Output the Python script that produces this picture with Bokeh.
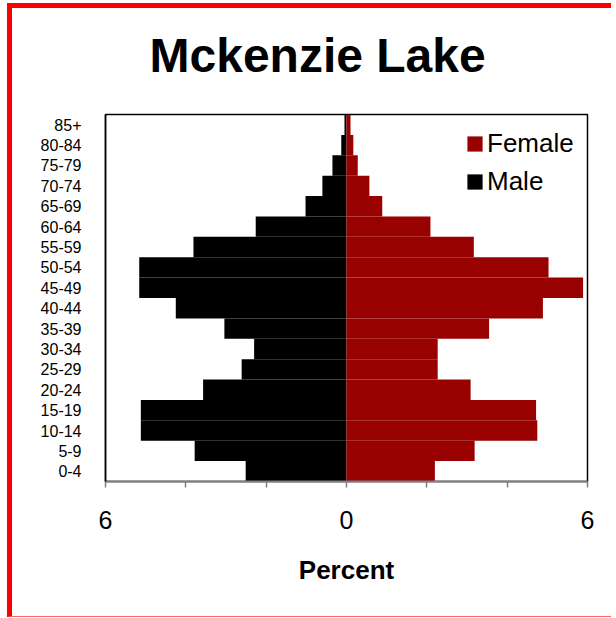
from bokeh.plotting import figure
from bokeh.models import (ColumnDataSource, FactorRange, Range1d, FixedTicker,
                          Legend, LegendItem, Title)
from bokeh.embed import file_html
from bokeh.resources import INLINE

# ---- data (percent of population) ----
ages = ["0-4", "5-9", "10-14", "15-19", "20-24", "25-29", "30-34", "35-39",
        "40-44", "45-49", "50-54", "55-59", "60-64", "65-69", "70-74",
        "75-79", "80-84", "85+"]
male = [2.51, 3.78, 5.12, 5.12, 3.57, 2.61, 2.30, 3.04, 4.25, 5.16, 5.16,
        3.81, 2.26, 1.02, 0.60, 0.35, 0.13, 0.05]
female = [2.20, 3.19, 4.75, 4.72, 3.09, 2.27, 2.27, 3.55, 4.89, 5.89, 5.03,
          3.17, 2.09, 0.89, 0.57, 0.28, 0.17, 0.10]
x_ticks = [-6, -4, -2, 0, 2, 4, 6]
x_tick_labels = {-6: "6", -4: "", -2: "", 0: "0", 2: "", 4: "", 6: "6"}

title_text = "Mckenzie Lake"
x_label = "Percent"

src = ColumnDataSource(dict(age=ages, male_left=[-v for v in male],
                            female=female, zero=[0] * len(ages)))

FONT = "Liberation Sans"

p = figure(width=604, height=614, output_backend="svg", toolbar_location=None,
           title=None,
           y_range=FactorRange(factors=ages, range_padding=0),
           x_range=Range1d(-6, 6),
           min_border_left=93, min_border_right=29,
           min_border_top=106, min_border_bottom=141)

p.styles = {"border-left": "5px solid #ff0000", "border-top": "5px solid #ff0000",
            "border-bottom": "1px solid #ff6666",
            "margin-top": "3px", "margin-left": "7px"}

rm = p.hbar(y="age", left="male_left", right="zero", height=1.0, source=src,
            fill_color="#000000", line_color=None)
rf = p.hbar(y="age", left="zero", right="female", height=1.0, source=src,
            fill_color="#990000", line_color=None)

# blank spacer between the frame and the title, then the title itself
spacer = Title(text=" ", text_font_size="1px", standoff=30)
p.add_layout(spacer, "above")
main_title = Title(text=title_text, text_font=FONT, text_font_size="48px",
                   text_font_style="bold", text_color="#000000",
                   align="left", offset=44, standoff=0)
p.add_layout(main_title, "above")

p.xgrid.visible = False
p.ygrid.visible = False
p.outline_line_color = "#000000"
p.outline_line_width = 1.5

xa = p.xaxis[0]
xa.ticker = FixedTicker(ticks=x_ticks)
xa.major_label_overrides = x_tick_labels
xa.axis_line_color = "#808080"
xa.axis_line_width = 2
xa.major_tick_line_color = "#808080"
xa.major_tick_line_width = 1.5
xa.major_tick_out = 6
xa.major_tick_in = 0
xa.minor_tick_line_color = None
xa.major_label_text_font = FONT
xa.major_label_text_font_size = "25px"
xa.major_label_text_color = "#000000"
xa.major_label_standoff = 23
xa.axis_label = x_label
xa.axis_label_text_font = FONT
xa.axis_label_text_font_size = "26px"
xa.axis_label_text_font_style = "bold"
xa.axis_label_text_color = "#000000"
xa.axis_label_standoff = 23

ya = p.yaxis[0]
ya.axis_line_color = "#000000"
ya.axis_line_width = 1.5
ya.major_tick_line_color = None
ya.minor_tick_line_color = None
ya.major_label_text_font = FONT
ya.major_label_text_font_size = "16px"
ya.major_label_text_color = "#000000"
ya.major_label_standoff = 18

legend = Legend(items=[LegendItem(label="Female", renderers=[rf]),
                       LegendItem(label="Male", renderers=[rm])],
                location=(360, 284), orientation="vertical",
                border_line_color=None, background_fill_alpha=0,
                glyph_width=19, glyph_height=19, label_height=30,
                label_standoff=3, spacing=7, padding=0, margin=0,
                label_text_font=FONT, label_text_font_size="26px",
                label_text_color="#000000")
p.add_layout(legend)

open("out.html", "w").write(file_html(p, INLINE))
